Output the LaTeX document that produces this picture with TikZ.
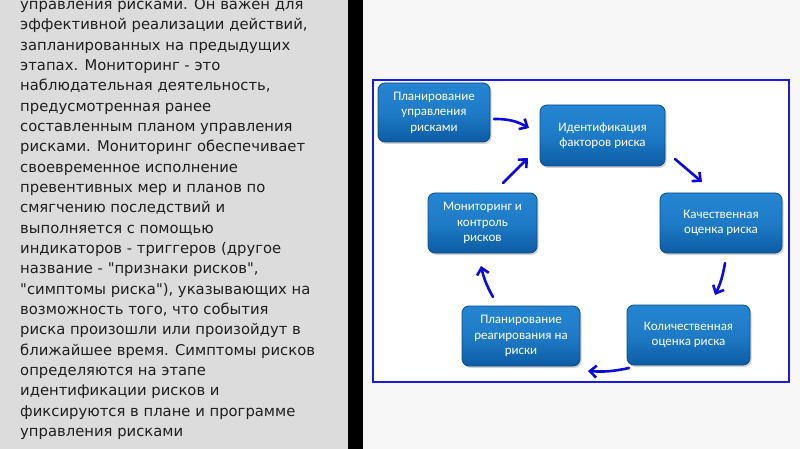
\documentclass[tikz,border=0pt]{standalone}
\usepackage{fontspec}
\setmainfont{DejaVu Sans}[Ligatures=TeXOff]
\newfontfamily\boxfont{Carlito}
\usetikzlibrary{arrows.meta,shadows}
\definecolor{leftgray}{HTML}{DCDCDC}
\definecolor{rightbg}{HTML}{F7F7F7}
\definecolor{frameblue}{HTML}{1A1AE6}
\definecolor{arrblue}{HTML}{0A0ADC}
\definecolor{boxtop}{HTML}{2585D2}
\definecolor{boxbot}{HTML}{0C5CA4}
\definecolor{boxedge}{HTML}{0A4C8A}
\tikzset{
  x=1pt,y=-1pt,
  para/.style={anchor=base west,inner sep=0pt,font=\fontsize{14.8}{16}\selectfont,text=black!88},
  stage/.style={rectangle,rounded corners=7pt,draw=boxedge,line width=0.8pt,
    top color=boxtop,bottom color=boxbot,middle color=boxtop!75!boxbot,
    text=white,align=center,font=\boxfont\fontsize{13}{15.5}\selectfont,
    inner sep=0pt,
    drop shadow={shadow xshift=1.5pt,shadow yshift=-2pt,opacity=0.35}},
  flow/.style={draw=arrblue,line width=2.6pt,line cap=round,
    -{Straight Barb[length=6.5pt,width=12pt,line width=2.6pt]}}
}
\begin{document}
\begin{tikzpicture}
\useasboundingbox (0,0) rectangle (800,449);
\fill[leftgray] (0,0) rectangle (348,449);
\fill[black] (348,0) rectangle (363,449);
\fill[rightbg] (363,0) rectangle (800,449);
% left text
\foreach \t [count=\i from 0] in {%
управления рисками. Он важен для,
эффективной реализации действий{,},
запланированных на предыдущих,
этапах. Мониторинг - это,
наблюдательная деятельность{,},
предусмотренная ранее,
составленным планом управления,
рисками. Мониторинг обеспечивает,
своевременное исполнение,
превентивных мер и планов по,
смягчению последствий и,
выполняется с помощью,
индикаторов - триггеров (другое,
название - "признаки рисков"{,},
"симптомы риска"){,} указывающих на,
возможность того{,} что события,
риска произошли или произойдут в,
ближайшее время. Симптомы рисков,
определяются на этапе,
идентификации рисков и,
фиксируются в плане и программе,
управления рисками}
  \node[para] (line\i) at (20,{9.5+20.33*\i}) {\t};
% frame
\draw[frameblue,line width=2.6pt,fill=white] (373,80) rectangle (789,382);
% stages
\node[stage,minimum width=112pt,minimum height=59pt] (s1) at (434,112.5) {Планирование\\управления\\рисками};
\node[stage,minimum width=125pt,minimum height=61pt] (s2) at (602.5,135.5) {Идентификация\\факторов риска};
\node[stage,minimum width=122pt,minimum height=60pt] (s3) at (721,223) {Качественная\\оценка риска};
\node[stage,minimum width=123pt,minimum height=60pt] (s4) at (688.5,335) {Количественная\\оценка риска};
\node[stage,minimum width=118pt,minimum height=60pt] (s5) at (521,336) {Планирование\\реагирования на\\риски};
\node[stage,minimum width=109pt,minimum height=60pt] (s6) at (482.5,223) {Мониторинг и\\контроль\\рисков};
% arrows
\coordinate (a1s) at (494,119); \coordinate (a1e) at (529,128);
\coordinate (a2s) at (675,159); \coordinate (a2e) at (702,182);
\coordinate (a3s) at (725,263); \coordinate (a3e) at (715,295);
\coordinate (a4s) at (629,368); \coordinate (a4e) at (588,371);
\coordinate (a5s) at (493,297); \coordinate (a5e) at (481,266);
\coordinate (a6s) at (503,183); \coordinate (a6e) at (528,158);
\draw[flow] (a1s) to[bend left=15] (a1e);
\draw[flow] (a2s) to (a2e);
\draw[flow] (a3s) to[bend left=8] (a3e);
\draw[flow] (a4s) to[bend left=8] (a4e);
\draw[flow] (a5s) to[bend left=8] (a5e);
\draw[flow] (a6s) to (a6e);
\end{tikzpicture}
\end{document}
